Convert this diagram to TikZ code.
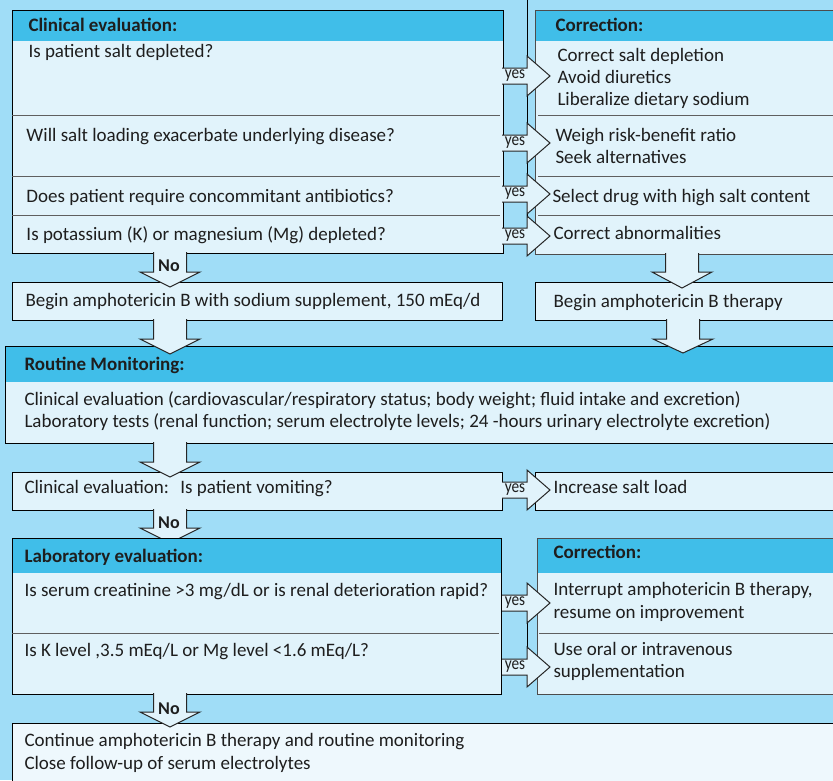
\documentclass[tikz,border=0pt]{standalone}
\usepackage{fontspec}
\setmainfont{Carlito}
\newfontfamily\narrowfont[FakeStretch=0.85]{Carlito}
\definecolor{sky}{RGB}{160,221,247}
\definecolor{pale}{RGB}{225,243,251}
\definecolor{paler}{RGB}{238,248,253}
\definecolor{band}{RGB}{64,190,233}
\definecolor{ink}{RGB}{30,30,30}
\definecolor{rule}{RGB}{95,95,95}
\begin{document}
\begin{tikzpicture}[x=1pt,y=-1pt,line width=1pt,line join=miter,
		txt/.style={anchor=base west,inner sep=0pt,text=ink,font=\fontsize{19}{22}\selectfont},
		hd/.style={txt,font=\fontsize{19}{22}\selectfont\bfseries},
		tag/.style={anchor=base,inner sep=0pt,text=ink,font=\narrowfont\fontsize{18}{18}\selectfont},
		notag/.style={tag,font=\fontsize{18}{18}\selectfont\bfseries},
		blk/.style={fill=pale,draw=black!85}]
	\def\Ax{502}%左框右边
	\def\Bx{527}%箭头颈
	\def\Cx{550}%箭头尖
	% 向右的 yes 箭头, #1 中线, #2 名字
	\def\YesArrow#1#2{%
		\filldraw[blk] (\Ax,#1-8)--(\Bx,#1-8)--(\Bx,#1-20)--(\Cx,#1)--(\Bx,#1+20)--(\Bx,#1+8)--(\Ax,#1+8);
		\node[tag] (#2) at (515,#1+2) {yes};}
	% 向下的箭头, #1 中心x, #2 起点, #3 箭头肩, #4 箭头尖
	\def\DownArrow#1#2#3#4{%
		\filldraw[blk] (#1-16.5,#2)--(#1-16.5,#3)--(#1-30,#3)--(#1,#4)--(#1+30,#3)--(#1+16.5,#3)--(#1+16.5,#2);}
	\useasboundingbox (0,0) rectangle (833,780);
	\clip (0,0) rectangle (833,780);
	\fill[sky] (0,0) rectangle (833,780);

	% 第一部分
	\fill[pale] (12,10) rectangle (503,253);
	\fill[band] (12,10) rectangle (503,41);
	\draw (12,10) rectangle (503,253);
	\draw[rule] (12,115)--(500,115) (12,176)--(500,176) (12,215)--(500,215);
	\fill[pale] (535,10) rectangle (840,254);
	\fill[band] (535,10) rectangle (840,41);
	\draw[black!70] (840,10)--(535,10)--(535,254)--(840,254);
	\draw[rule] (538,115)--(840,115) (538,176)--(840,176) (538,215)--(840,215);
	\draw (\Bx,0)--(\Bx,244);
	\node[hd] (h1) at (28,31) {Clinical evaluation:};
	\node[txt] (q1) at (28,57) {Is patient salt depleted?};
	\node[txt] (q2) at (26,141) {Will salt loading exacerbate underlying disease?};
	\node[txt] (q3) at (26,202) {Does patient require concommitant antibiotics?};
	\node[txt] (q4) at (26,240) {Is potassium (K) or magnesium (Mg) depleted?};
	\node[hd] (h2) at (555,31) {Correction:};
	\node[txt] (c1) at (557,61) {Correct salt depletion};
	\node[txt] (c1b) at (557,83) {Avoid diuretics};
	\node[txt] (c1c) at (557,105) {Liberalize dietary sodium};
	\node[txt] (c2) at (555,141) {Weigh risk-benefit ratio};
	\node[txt] (c2b) at (555,163) {Seek alternatives};
	\node[txt] (c3) at (552,202) {Select drug with high salt content};
	\node[txt] (c4) at (553,239) {Correct abnormalities};
	\YesArrow{76}{y1}
	\YesArrow{143}{y2}
	\YesArrow{194}{y3}
	\YesArrow{236}{y4}

	% 开始治疗
	\fill[pale] (12,282) rectangle (502,320);
	\draw (12,282) rectangle (502,320);
	\node[txt] (b1) at (25,306) {Begin amphotericin B with sodium supplement, 150 mEq/d};
	\fill[pale] (535,282) rectangle (840,320);
	\draw (840,282)--(535,282)--(535,320)--(840,320);
	\node[txt] (b2) at (553,307) {Begin amphotericin B therapy};
	\DownArrow{170}{252}{272}{287}
	\node[notag] (n1) at (169,271) {No};
	\DownArrow{682}{253}{272}{288}

	% 常规监测
	\fill[pale] (5,346) rectangle (840,443);
	\fill[band] (5,346) rectangle (840,382);
	\draw (840,346)--(5,346)--(5,443)--(840,443);
	\node[hd] (h3) at (24,370) {Routine Monitoring:};
	\node[txt] (m1) at (24,405) {Clinical evaluation (cardiovascular/respiratory status; body weight; fluid intake and excretion)};
	\node[txt] (m2) at (24,427) {Laboratory tests (renal function; serum electrolyte levels; 24 -hours urinary electrolyte excretion)};
	\DownArrow{170}{319}{339}{354}
	\DownArrow{683}{319}{339}{353}

	% 呕吐
	\fill[pale] (12,472) rectangle (502,510);
	\draw (12,472) rectangle (502,510);
	\node[txt] (v1) at (24,493) {Clinical evaluation:\hspace{.6em}Is patient vomiting?};
	\fill[pale] (535,472) rectangle (840,510);
	\draw (840,472)--(535,472)--(535,510)--(840,510);
	\node[txt] (v2) at (553,493) {Increase salt load};
	\DownArrow{170}{442}{462}{477}
	\YesArrow{490}{y5}
	\DownArrow{170}{509}{528}{543}
	\node[notag] (n2) at (169,528) {No};

	% 实验室检查
	\fill[pale] (12,538) rectangle (501,694);
	\fill[band] (12,538) rectangle (501,573);
	\draw (12,538) rectangle (501,694);
	\draw[rule] (12,633)--(499,633);
	\fill[pale] (537,538) rectangle (840,694);
	\fill[band] (537,538) rectangle (840,573);
	\draw[black!70] (840,538)--(537,538)--(537,694)--(840,694);
	\draw[rule] (539,633)--(840,633);
	\draw (\Bx,612)--(\Bx,660);
	\node[hd] (h4) at (24,562) {Laboratory evaluation:};
	\node[txt] (l1) at (24,596) {Is serum creatinine >3 mg/dL or is renal deterioration rapid?};
	\node[txt] (l2) at (24,656) {Is K level ,3.5 mEq/L or Mg level <1.6 mEq/L?};
	\node[hd] (h5) at (553,558) {Correction:};
	\node[txt] (r1) at (553,595) {Interrupt amphotericin B therapy,};
	\node[txt] (r1b) at (553,618) {resume on improvement};
	\node[txt] (r2) at (553,655) {Use oral or intravenous};
	\node[txt] (r2b) at (553,677) {supplementation};
	\YesArrow{603}{y6}
	\YesArrow{667}{y7}

	% 继续治疗
	\fill[paler] (12,723) rectangle (840,790);
	\draw (840,723)--(12,723)--(12,790);
	\node[txt] (f1) at (24,746) {Continue amphotericin B therapy and routine monitoring};
	\node[txt] (f2) at (24,769) {Close follow-up of serum electrolytes};
	\DownArrow{170}{693}{712}{727}
	\node[notag] (n3) at (169,714) {No};
\end{tikzpicture}
\end{document}
